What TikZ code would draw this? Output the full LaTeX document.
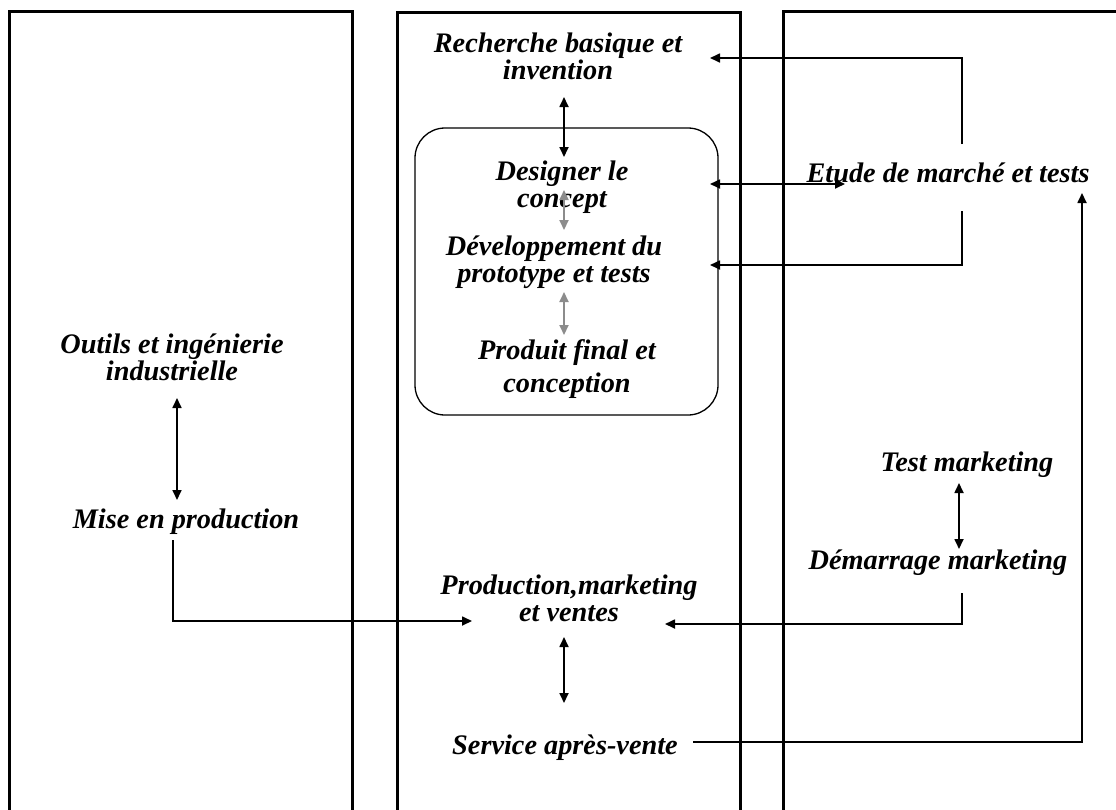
\documentclass[tikz,border=0pt]{standalone}
\usepackage{fontspec}
\setmainfont{Liberation Serif}
\usetikzlibrary{arrows.meta}
\begin{document}
\begin{tikzpicture}[x=1pt,y=-1pt,
  lane/.style={line width=3pt,black},
  conn/.style={line width=1.7pt,-{Triangle[length=10pt,width=9pt]}},
  both/.style={line width=1.7pt,{Triangle[length=10pt,width=9pt]}-{Triangle[length=10pt,width=9pt]}},
  grayboth/.style={both,line width=2pt,color=black!45},
  lbl/.style={font=\fontsize{28.3}{27}\selectfont\bfseries\itshape,align=center,inner sep=0pt},
  frame/.style={line width=1.3pt,rounded corners=30pt}]
\useasboundingbox (0,0) rectangle (1116,809);
% lanes
\draw[lane] (9,815) -- (9,11) -- (352,11) -- (352,815);
\draw[lane] (397,815) -- (397,12) -- (740,12) -- (740,815);
\draw[lane] (783,815) -- (783,11) -- (1130,11);
% inner rounded frame
\draw[frame] (415,128) rectangle (718,415);
% labels
\node[lbl,font=\fontsize{28.3}{25}\selectfont\bfseries\itshape] (rech) at (558,56) {Recherche basique et\\invention};
\node[lbl] (desi) at (562,187) {Designer le\\concept};
\node[lbl] (dev) at (554,262) {Développement du\\prototype et tests};
\node[lbl,font=\fontsize{28.3}{33}\selectfont\bfseries\itshape] (prod) at (567,369) {Produit final et\\conception};
\node[lbl] (etude) at (948,173) {Etude de marché et tests};
\node[lbl] (outils) at (172,357) {Outils et ingénierie\\industrielle};
\node[lbl] (mise) at (186,522) {Mise en production};
\node[lbl] (pmv) at (569,598) {Production,marketing\\et ventes};
\node[lbl] (sav) at (565,748) {Service après-vente};
\node[lbl] (test) at (967,465) {Test marketing};
\node[lbl] (dem) at (938,563) {Démarrage marketing};
% connector ends
\coordinate (r1) at (564,97);   \coordinate (r2) at (564,157);
\coordinate (g1) at (564,190);  \coordinate (g2) at (564,230);
\coordinate (g3) at (564,292);  \coordinate (g4) at (564,335);
\coordinate (e1) at (962,144);  \coordinate (e1t) at (710,58);
\coordinate (e2a) at (710,184); \coordinate (e2b) at (845,184);
\coordinate (e3) at (962,211);  \coordinate (e3t) at (710,265);
\coordinate (o1) at (177,398);  \coordinate (o2) at (177,500);
\coordinate (m1) at (173,540);  \coordinate (m1t) at (472,621);
\coordinate (t1) at (959,483);  \coordinate (t2) at (959,549);
\coordinate (d1) at (962,593);  \coordinate (d1t) at (665,624);
\coordinate (p1) at (564,637);  \coordinate (p2) at (564,703);
\coordinate (s1) at (693,742);  \coordinate (s1t) at (1082,193);
% connectors
\draw[both] (r1) -- (r2);
\draw[grayboth] (g1) -- (g2);
\draw[grayboth] (g3) -- (g4);
\draw[conn] (e1) |- (e1t);
\draw[both] (e2a) -- (e2b);
\draw[conn] (e3) |- (e3t);
\draw[both] (o1) -- (o2);
\draw[conn] (m1) |- (m1t);
\draw[both] (t1) -- (t2);
\draw[conn] (d1) |- (d1t);
\draw[both] (p1) -- (p2);
\draw[conn] (s1) -| (s1t);
\end{tikzpicture}
\end{document}
